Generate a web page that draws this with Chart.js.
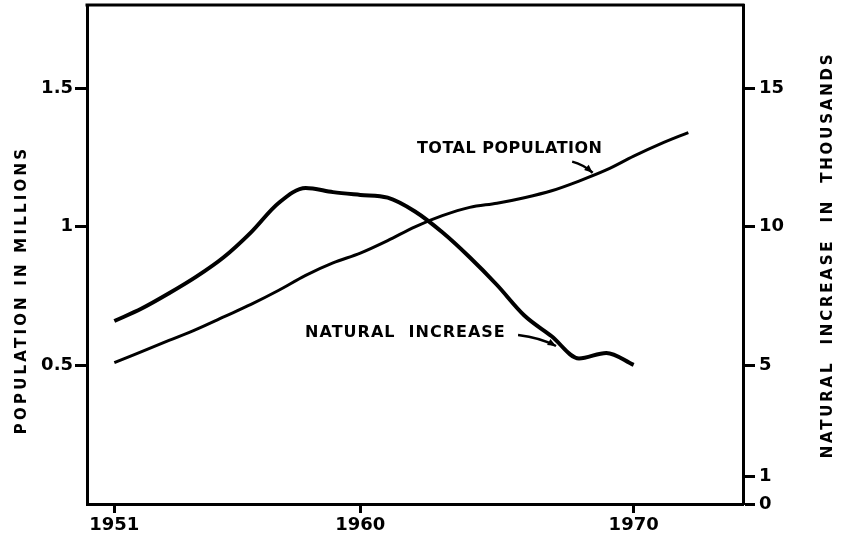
<!DOCTYPE html>
<html>
<head>
<meta charset="utf-8">
<script src="https://cdn.jsdelivr.net/npm/chart.js@4.4.1/dist/chart.umd.min.js"></script>
<style>
  html, body { margin: 0; padding: 0; background: #fff; }
  #wrap { width: 841px; height: 539px; position: relative; }
</style>
</head>
<body>
<div id="wrap"><canvas id="popChart"></canvas></div>
<script>
// Data
const popYears = [1951, 1952, 1953, 1954, 1955, 1956, 1957, 1958, 1959, 1960, 1961,
                  1962, 1963, 1964, 1965, 1966, 1967, 1968, 1969, 1970, 1971, 1972];
const popMillions = [0.51, 0.55, 0.59, 0.63, 0.675, 0.72, 0.77, 0.825, 0.87, 0.905, 0.95,
                     1.0, 1.04, 1.07, 1.085, 1.105, 1.13, 1.165, 1.205, 1.255, 1.3, 1.34];

const incYears = [1951, 1952, 1953, 1954, 1955, 1956, 1957, 1958, 1959, 1960,
                  1961, 1962, 1963, 1964, 1965, 1966, 1967, 1968, 1969, 1970];
const incThousands = [6.6, 7.05, 7.6, 8.2, 8.9, 9.8, 10.85, 11.4, 11.25, 11.15,
                      11.05, 10.55, 9.8, 8.9, 7.9, 6.8, 6.05, 5.25, 5.45, 5.02];

const yearTicks = [1951, 1960, 1970];
const popTicks = [0.5, 1, 1.5];
const incTicks = [0, 1, 5, 10, 15];

const leftTitle = 'POPULATION IN MILLIONS';
const rightTitle = 'NATURAL  INCREASE  IN  THOUSANDS';

const tickFont = { family: 'DejaVu Sans', weight: 'bold', size: 18 };

// Annotation text and arrows (year, value on the given axis)
const notes = [
    { text: 'TOTAL POPULATION', axis: 'yPop', x: 1962.07, y: 1.28, spacing: 0.5,
      arrow: [[1967.75, 1.235], [1968.15, 1.225], [1968.5, 1.195]] },
    { text: 'NATURAL  INCREASE', axis: 'yInc', x: 1957.98, y: 6.17, spacing: 1,
      arrow: [[1965.77, 6.1], [1966.6, 6.0], [1967.16, 5.7]] }
];

function toPoints(xs, ys) {
    return xs.map((x, i) => ({ x: x, y: ys[i] }));
}

// y axes: fixed width and no extra room for half tick labels
function fitY(width) {
    return s => {
        s.width = width;
        s.paddingTop = 0;
        s.paddingBottom = 0;
    };
}

// Frame, axis titles and annotations
const decorPlugin = {
    id: 'decor',
    afterDraw(chart) {
        const ctx = chart.ctx;
        const a = chart.chartArea;
        ctx.save();
        ctx.strokeStyle = '#000';
        ctx.fillStyle = '#000';

        // top edge of the frame
        ctx.lineWidth = 3;
        ctx.beginPath();
        ctx.moveTo(a.left - 1.5, a.top);
        ctx.lineTo(a.right + 1.5, a.top);
        ctx.stroke();

        // rotated axis titles, both reading bottom to top
        ctx.textAlign = 'center';
        ctx.textBaseline = 'middle';
        [[22, 290, leftTitle, 3.2], [828, 255, rightTitle, 2.8]].forEach(t => {
            ctx.save();
            ctx.font = 'bold 15px "DejaVu Sans"';
            ctx.letterSpacing = t[3] + 'px';
            ctx.translate(t[0], t[1]);
            ctx.rotate(-Math.PI / 2);
            ctx.fillText(t[2], 0, 0);
            ctx.restore();
        });

        // line labels with small arrows
        ctx.font = 'bold 16px "DejaVu Sans"';
        ctx.textAlign = 'left';
        const xs = chart.scales.x;
        notes.forEach(n => {
            const ys = chart.scales[n.axis];
            ctx.letterSpacing = n.spacing + 'px';
            ctx.fillText(n.text, xs.getPixelForValue(n.x), ys.getPixelForValue(n.y));
            const p = n.arrow.map(q => [xs.getPixelForValue(q[0]), ys.getPixelForValue(q[1])]);
            ctx.lineWidth = 2.5;
            ctx.beginPath();
            ctx.moveTo(p[0][0], p[0][1]);
            ctx.quadraticCurveTo(p[1][0], p[1][1], p[2][0], p[2][1]);
            ctx.stroke();
            const ang = Math.atan2(p[2][1] - p[1][1], p[2][0] - p[1][0]);
            ctx.beginPath();
            ctx.moveTo(p[2][0], p[2][1]);
            ctx.lineTo(p[2][0] - 9 * Math.cos(ang - 0.4), p[2][1] - 9 * Math.sin(ang - 0.4));
            ctx.lineTo(p[2][0] - 9 * Math.cos(ang + 0.4), p[2][1] - 9 * Math.sin(ang + 0.4));
            ctx.closePath();
            ctx.fill();
        });
        ctx.restore();
    }
};

const ctx = document.getElementById('popChart').getContext('2d');
const popChart = new Chart(ctx, {
    type: 'line',
    data: {
        datasets: [
            {
                label: 'Total population',
                data: toPoints(popYears, popMillions),
                yAxisID: 'yPop',
                borderColor: '#000',
                borderWidth: 3,
                pointRadius: 0,
                cubicInterpolationMode: 'monotone',
                fill: false
            },
            {
                label: 'Natural increase',
                data: toPoints(incYears, incThousands),
                yAxisID: 'yInc',
                borderColor: '#000',
                borderWidth: 4,
                pointRadius: 0,
                cubicInterpolationMode: 'monotone',
                fill: false
            }
        ]
    },
    options: {
        responsive: true,
        maintainAspectRatio: false,
        animation: false,
        layout: { autoPadding: false, padding: { top: 5, left: 0, right: 0, bottom: 0 } },
        plugins: {
            legend: { display: false },
            tooltip: { enabled: false }
        },
        scales: {
            x: {
                type: 'linear',
                min: 1950,
                max: 1974,
                afterBuildTicks: s => { s.ticks = yearTicks.map(v => ({ value: v })); },
                afterFit: s => { s.height = 35; s.paddingLeft = 0; s.paddingRight = 0; },
                border: { display: true, color: '#000', width: 3 },
                grid: { drawOnChartArea: false, tickLength: 9, tickWidth: 3, tickColor: '#000' },
                ticks: { color: '#000', font: tickFont, padding: 2, maxRotation: 0,
                         callback: v => String(v) }
            },
            yPop: {
                type: 'linear',
                position: 'left',
                min: 0,
                max: 1.8,
                afterBuildTicks: s => { s.ticks = popTicks.map(v => ({ value: v })); },
                afterFit: fitY(87),
                border: { display: true, color: '#000', width: 3 },
                grid: { drawOnChartArea: false, tickLength: 12, tickWidth: 3, tickColor: '#000' },
                ticks: { color: '#000', font: tickFont, padding: 2,
                         callback: v => String(v) }
            },
            yInc: {
                type: 'linear',
                position: 'right',
                min: 0,
                max: 18,
                afterBuildTicks: s => { s.ticks = incTicks.map(v => ({ value: v })); },
                afterFit: fitY(98),
                border: { display: true, color: '#000', width: 3 },
                grid: { drawOnChartArea: false, tickLength: 12, tickWidth: 3, tickColor: '#000' },
                ticks: { color: '#000', font: tickFont, padding: 4,
                         callback: v => String(v) }
            }
        }
    },
    plugins: [decorPlugin]
});
</script>
</body>
</html>
